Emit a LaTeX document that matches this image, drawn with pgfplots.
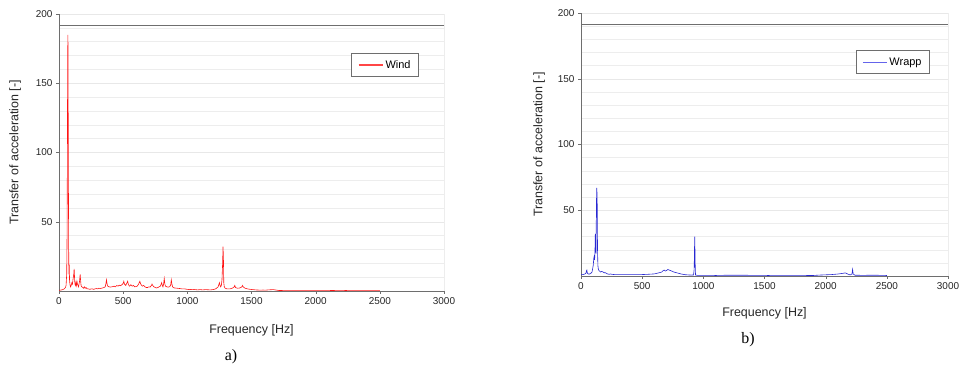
\documentclass[border=0pt]{standalone}
\usepackage{pgfplots}
\usepackage{pgfplotstable}
\pgfplotsset{compat=1.18}
\usepackage{fontspec}
\setmainfont{Liberation Sans}
\newfontfamily\seriffont{Liberation Serif}
\definecolor{windred}{RGB}{255,20,20}
\definecolor{wrappblue}{RGB}{40,40,210}
\definecolor{axgray}{RGB}{110,110,110}
\definecolor{legred}{RGB}{255,70,70}
\definecolor{legblue}{RGB}{100,100,235}

\pgfplotstableread{
f v
0 0.5
10 0.6
20 0.8
30 1
40 1.5
50 2.5
55 4
60 12
63 40
65 90
67 150
69 185
70 178
72 120
74 60
76 20
78 12
80 19
82 8
85 5
90 3
95 4
100 6
105 5
110 9
115 12
118 16
121 10
124 5
128 4
132 6
136 4
140 7
144 5
148 4
152 3
156 5
160 7
165 12
168 8
172 4
176 3
180 3
186 2.5
192 2
198 3
204 2
210 2.5
220 1.5
230 1.5
240 1.2
250 1.5
260 1.5
270 1.2
280 1.5
290 1.8
300 1.5
310 2
320 1.8
330 2
340 2.2
350 2.5
360 3
365 5
370 8
375 5
380 3.5
390 3
400 2.8
410 3
420 3.2
430 3.5
440 3
450 4
460 3.5
470 4.2
480 3.8
490 4.5
500 5.5
505 7
510 5
515 4.5
520 4
525 5
530 6
535 7
540 5
545 4
550 3.5
560 4.5
570 3.5
580 4
590 3
600 3.2
610 3.5
620 5
625 6
630 7
635 5.5
640 4.5
650 3.5
660 4
670 3
680 2.5
690 2.5
700 3
710 2.8
720 4
725 5
730 4
740 3
750 2.5
760 2.2
770 2.5
780 3
790 3.5
800 6
805 4
810 3
815 5
820 9
825 5
830 3.5
840 3
850 2.8
860 3
870 4
875 8
880 5
885 3
890 2.5
900 2.2
920 2
940 1.8
960 1.5
980 1.5
1000 1.2
1020 1
1040 1.2
1060 1
1080 0.8
1100 1
1120 0.8
1140 1
1160 0.9
1180 0.8
1200 1
1220 1.5
1240 3
1250 6
1255 4
1260 3
1265 4
1270 8
1275 20
1278 32
1281 25
1284 6
1288 3
1295 2
1310 1.5
1330 1.5
1350 2
1365 3
1370 4
1375 2.5
1390 2
1410 2.2
1425 3
1430 4
1435 3
1450 2
1470 1.5
1490 1.2
1510 1
1530 0.8
1550 0.7
1570 0.6
1590 0.7
1610 0.6
1630 0.8
1650 0.9
1670 1
1690 0.7
1710 0.4
1750 0.3
1800 0.3
1850 0.3
1900 0.3
1950 0.3
2000 0.3
2100 0.3
2200 0.5
2250 0.3
2300 0.3
2400 0.3
2500 0.3
}\winddata

\pgfplotstableread{
f v
0 1
10 1
20 1.2
30 1.5
40 2
45 4
48 4.5
52 2
60 1.5
70 1.5
80 2
90 3
100 8
105 14
108 15
111 12
114 18
117 32
120 28
123 17
126 55
129 67
132 60
135 20
138 8
142 5
148 4
155 3.5
160 3
170 3.5
180 3
190 2.5
200 2.5
210 1.8
220 1.5
230 1.3
240 1.5
260 1.2
280 1
300 1
350 1
400 1
450 1
500 1.1
550 1.3
600 1.6
640 2.5
660 3
670 4
680 4.5
690 3.8
700 4.2
710 5
720 4.5
730 4.2
740 3.8
760 3
780 2.5
800 2
820 1.5
850 1
880 0.8
900 0.7
920 0.8
925 5
928 22
930 30
933 10
936 0.8
950 0.5
1000 0.5
1050 0.5
1100 0.4
1200 0.6
1300 0.6
1400 0.5
1500 0.5
1550 0.3
1600 0.3
1700 0.3
1800 0.3
1900 0.4
1950 0.7
2000 0.9
2050 1.1
2100 1.5
2140 2
2160 2.4
2180 1.5
2200 0.8
2215 1.5
2220 5
2225 1.5
2240 0.6
2300 0.5
2400 0.6
2450 0.5
2500 0.4
}\wrappdata

\pgfplotsset{
  specax/.style={
    scale only axis,
    anchor=origin,
    xmin=0, xmax=3000, ymin=0, ymax=200,
    axis lines=left,
    axis line style={-, draw=axgray, line width=0.7pt},
    xtick={0,500,...,3000},
    ytick={50,100,150,200},
    minor ytick={10,20,...,190},
    minor tick length=0pt,
    major tick length=3bp,
    tick align=outside,
    tick style={draw=axgray},
    ymajorgrids, yminorgrids,
    major grid style={draw=black!9},
    minor grid style={draw=black!7},
    /pgf/number format/assume math mode=true,
    /pgf/number format/1000 sep={},
    tick label style={font=\fontsize{10}{12}\selectfont, text=black!85},
    label style={font=\fontsize{12.5}{14}\selectfont, text=black!85},
    xlabel={Frequency [Hz]},
    ylabel={Transfer of acceleration [-]},
    xlabel style={at={(axis description cs:0.5,-0.142)}, anchor=center},
    ylabel style={at={(axis description cs:-0.114,0.5)}, anchor=center},
    legend style={font=\fontsize{11}{13}\selectfont, draw=axgray, line width=1pt,
      text=black, inner xsep=6bp, inner ysep=5bp, legend cell align=left},
  }
}

\begin{document}
\begin{tikzpicture}[x=1bp,y=1bp]
\path[use as bounding box] (0bp,0bp) rectangle (959bp,365bp);

\begin{axis}[specax, at={(59bp,74bp)}, width=385bp, height=277bp,
  legend style={at={(0.935,0.859)}, anchor=north east}]
\draw[axgray, line width=0.7pt] (axis cs:0,191.5) -- (axis cs:3000,191.5);
\draw[axgray, line width=0.7pt] (axis cs:3000,0) -- (axis cs:3000,200);
\addplot[windred, line width=0.6pt, forget plot] table[x=f, y=v] {\winddata};
\addlegendimage{legend image code/.code={\draw[color=legred, draw=legred, line width=1.6pt] (0bp,0bp) -- (24bp,0bp);}}
\addlegendentry{Wind}
\end{axis}

\begin{axis}[specax, at={(581bp,89bp)}, width=367bp, height=263bp,
  legend style={at={(0.951,0.859)}, anchor=north east}]
\draw[axgray, line width=0.7pt] (axis cs:0,191.5) -- (axis cs:3000,191.5);
\draw[axgray, line width=0.7pt] (axis cs:3000,0) -- (axis cs:3000,200);
\addplot[wrappblue, line width=0.6pt, forget plot] table[x=f, y=v] {\wrappdata};
\addlegendimage{legend image code/.code={\draw[color=legblue, draw=legblue, line width=1.1pt] (0bp,0bp) -- (24bp,0bp);}}
\addlegendentry{Wrapp}
\end{axis}

\node[font=\seriffont\fontsize{16}{18}\selectfont] at (231bp,8bp) {a)};
\node[font=\seriffont\fontsize{16}{18}\selectfont] at (748bp,25bp) {b)};
\end{tikzpicture}
\end{document}
